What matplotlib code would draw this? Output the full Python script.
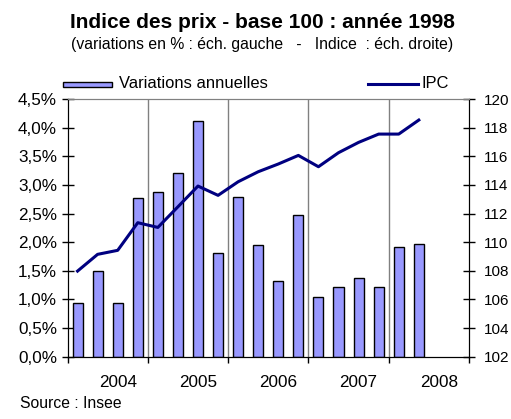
import numpy as np
import matplotlib
matplotlib.use("Agg")
import matplotlib.pyplot as plt
from matplotlib.patches import Rectangle
from matplotlib.lines import Line2D

plt.rcParams['font.family'] = ['Liberation Sans', 'DejaVu Sans']

# quarterly data, 2004 Q1 -> 2008 Q2
variations = [0.93, 1.50, 0.93, 2.77, 2.87, 3.21, 4.11, 1.81,
              2.79, 1.95, 1.33, 2.48, 1.04, 1.21, 1.38, 1.21,
              1.92, 1.97]
ipc = [107.98, 109.15, 109.43, 111.36, 111.03, 112.47, 113.92, 113.27,
       114.22, 114.92, 115.46, 116.06, 115.27, 116.25, 116.97, 117.55,
       117.55, 118.53]
years = ['2004', '2005', '2006', '2007', '2008']
n_slots = 20

fig = plt.figure(figsize=(5.11, 4.19), dpi=100)
ax = fig.add_axes([0.1321, 0.1487, 0.9178 - 0.1321, 0.7637 - 0.1487])
ax2 = ax.twinx()

x = np.arange(len(variations))
ax.bar(x, variations, width=0.5, color='#9999FF', edgecolor='black', linewidth=1, zorder=3)
ax2.plot(x, ipc, color='#000080', linewidth=2.2, zorder=4)

ax.set_xlim(-0.5, n_slots - 0.5)
ax.set_ylim(0, 4.5)
ax2.set_ylim(102, 120)

# year separators
for b in np.arange(3.5, n_slots - 1, 4):
    ax.axvline(b, color='#808080', linewidth=1, zorder=1)

ax.set_xticks(np.arange(-0.5, n_slots, 4))
ax.set_xticklabels([])
ax.set_xticks(np.arange(2, n_slots, 4), minor=True)
ax.set_xticklabels(years, minor=True)
ax.tick_params(axis='x', which='major', direction='out', length=4, width=1)
ax.tick_params(axis='x', which='minor', length=0, pad=13, labelsize=12.3)

yt = np.arange(0, 4.51, 0.5)
ax.set_yticks(yt)
ax.set_yticklabels([f"{v:.1f}%".replace('.', ',') for v in yt])
ax.tick_params(axis='y', direction='inout', length=9, width=1, pad=3, labelsize=12.3)

ax2.set_yticks(np.arange(102, 121, 2))
ax2.tick_params(axis='y', direction='inout', length=9, width=1, pad=6, labelsize=11)

for a in (ax, ax2):
    a.spines['top'].set_color('#808080')
    a.spines['left'].set_color('black')
    a.spines['right'].set_color('black')
    a.spines['bottom'].set_color('black')
    a.spines['bottom'].set_zorder(5)

# legend drawn in figure pixels
W, H = 511, 419
fig.patches.append(Rectangle((63 / W, 1 - 86.7 / H), 49 / W, 5 / H, transform=fig.transFigure,
                             facecolor='#9999FF', edgecolor='black', linewidth=1))
fig.text(119 / W, 1 - 84 / H, 'Variations annuelles', fontsize=11.9, va='center', ha='left')
fig.lines.append(Line2D([368 / W, 418 / W], [1 - 84 / H, 1 - 84 / H], transform=fig.transFigure,
                        color='#000080', linewidth=2.2))
fig.text(421 / W, 1 - 84 / H, 'IPC', fontsize=11.9, va='center', ha='left')

fig.text(262 / W, 1 - 23 / H, 'Indice des prix - base 100 : année 1998', fontsize=15,
         fontweight='bold', ha='center', va='center')
fig.text(262 / W, 1 - 44 / H, '(variations en % : éch. gauche   -   Indice  : éch. droite)',
         fontsize=11.3, ha='center', va='center')
fig.text(20 / W, 1 - 403 / H, 'Source : Insee', fontsize=11.3, ha='left', va='center')

fig.savefig('out.png', dpi=100)
